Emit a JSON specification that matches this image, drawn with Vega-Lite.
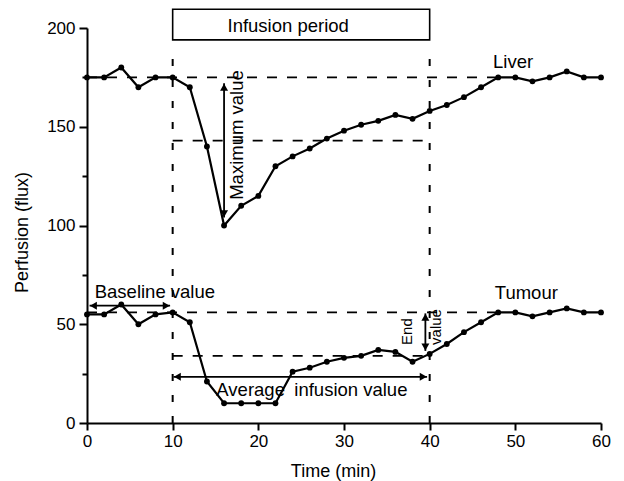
{
  "$schema": "https://vega.github.io/schema/vega-lite/v6.json",
  "width": 514,
  "height": 395,
  "autosize": {"type": "none"},
  "padding": {"left": 87, "top": 28, "right": 23, "bottom": 58},
  "background": "white",
  "config": {
    "view": {"stroke": null},
    "axis": {
      "labelFont": "Liberation Sans",
      "titleFont": "Liberation Sans",
      "labelFontSize": 17,
      "titleFontSize": 18,
      "titleFontWeight": "normal",
      "labelColor": "black",
      "titleColor": "black",
      "domainColor": "black",
      "tickColor": "black",
      "domainWidth": 2,
      "tickWidth": 2,
      "grid": false
    },
    "text": {"font": "Liberation Sans", "color": "black"}
  },
  "datasets": {
    "series": [
      {"organ": "Liver", "x": 0, "y": 175}, {"organ": "Liver", "x": 2, "y": 175}, {"organ": "Liver", "x": 4, "y": 180}, {"organ": "Liver", "x": 6, "y": 170},
      {"organ": "Liver", "x": 8, "y": 175}, {"organ": "Liver", "x": 10, "y": 175}, {"organ": "Liver", "x": 12, "y": 170}, {"organ": "Liver", "x": 14, "y": 140},
      {"organ": "Liver", "x": 16, "y": 100}, {"organ": "Liver", "x": 18, "y": 110}, {"organ": "Liver", "x": 20, "y": 115}, {"organ": "Liver", "x": 22, "y": 130},
      {"organ": "Liver", "x": 24, "y": 135}, {"organ": "Liver", "x": 26, "y": 139}, {"organ": "Liver", "x": 28, "y": 144}, {"organ": "Liver", "x": 30, "y": 148},
      {"organ": "Liver", "x": 32, "y": 151}, {"organ": "Liver", "x": 34, "y": 153}, {"organ": "Liver", "x": 36, "y": 156}, {"organ": "Liver", "x": 38, "y": 154},
      {"organ": "Liver", "x": 40, "y": 158}, {"organ": "Liver", "x": 42, "y": 161}, {"organ": "Liver", "x": 44, "y": 165}, {"organ": "Liver", "x": 46, "y": 170},
      {"organ": "Liver", "x": 48, "y": 175}, {"organ": "Liver", "x": 50, "y": 175}, {"organ": "Liver", "x": 52, "y": 173}, {"organ": "Liver", "x": 54, "y": 175},
      {"organ": "Liver", "x": 56, "y": 178}, {"organ": "Liver", "x": 58, "y": 175}, {"organ": "Liver", "x": 60, "y": 175},
      {"organ": "Tumour", "x": 0, "y": 55}, {"organ": "Tumour", "x": 2, "y": 55}, {"organ": "Tumour", "x": 4, "y": 60}, {"organ": "Tumour", "x": 6, "y": 50},
      {"organ": "Tumour", "x": 8, "y": 55}, {"organ": "Tumour", "x": 10, "y": 56}, {"organ": "Tumour", "x": 12, "y": 51}, {"organ": "Tumour", "x": 14, "y": 21},
      {"organ": "Tumour", "x": 16, "y": 10}, {"organ": "Tumour", "x": 18, "y": 10}, {"organ": "Tumour", "x": 20, "y": 10}, {"organ": "Tumour", "x": 22, "y": 10},
      {"organ": "Tumour", "x": 24, "y": 26}, {"organ": "Tumour", "x": 26, "y": 28}, {"organ": "Tumour", "x": 28, "y": 31}, {"organ": "Tumour", "x": 30, "y": 33},
      {"organ": "Tumour", "x": 32, "y": 34}, {"organ": "Tumour", "x": 34, "y": 37}, {"organ": "Tumour", "x": 36, "y": 36}, {"organ": "Tumour", "x": 38, "y": 31},
      {"organ": "Tumour", "x": 40, "y": 35}, {"organ": "Tumour", "x": 42, "y": 40}, {"organ": "Tumour", "x": 44, "y": 46}, {"organ": "Tumour", "x": 46, "y": 51},
      {"organ": "Tumour", "x": 48, "y": 56}, {"organ": "Tumour", "x": 50, "y": 56}, {"organ": "Tumour", "x": 52, "y": 54}, {"organ": "Tumour", "x": 54, "y": 56},
      {"organ": "Tumour", "x": 56, "y": 58}, {"organ": "Tumour", "x": 58, "y": 56}, {"organ": "Tumour", "x": 60, "y": 56}
    ],
    "box": [{"x": 10, "x2": 40, "y": 194, "y2": 209.5}],
    "vdash": [
      {"x": 10, "x2": 10, "y": 0, "y2": 186},
      {"x": 40, "x2": 40, "y": 0, "y2": 186}
    ],
    "hdash": [
      {"x": 0, "x2": 48, "y": 175, "y2": 175},
      {"x": 10, "x2": 40, "y": 143, "y2": 143},
      {"x": 0, "x2": 48, "y": 56, "y2": 56},
      {"x": 10, "x2": 40, "y": 34, "y2": 34}
    ],
    "arrows": [
      {"x": 16, "x2": 16, "y": 104, "y2": 172},
      {"x": 0.3, "x2": 9.7, "y": 59.4, "y2": 59.4},
      {"x": 10.1, "x2": 39.7, "y": 23.4, "y2": 23.4},
      {"x": 39.5, "x2": 39.5, "y": 36.5, "y2": 55.5}
    ],
    "heads": [
      {"x": 16, "y": 170, "dir": "up"},
      {"x": 16, "y": 106, "dir": "down"},
      {"x": 0.75, "y": 59.4, "dir": "left"},
      {"x": 9.25, "y": 59.4, "dir": "right"},
      {"x": 10.55, "y": 23.4, "dir": "left"},
      {"x": 39.25, "y": 23.4, "dir": "right"},
      {"x": 39.5, "y": 53.5, "dir": "up"},
      {"x": 39.5, "y": 38.5, "dir": "down"}
    ],
    "labels": [
      {"x": 16.4, "y": 200.9, "text": "Infusion period"},
      {"x": 0.9, "y": 66.5, "text": "Baseline value"},
      {"x": 15.1, "y": 16.7, "text": "Average"},
      {"x": 24.2, "y": 16.7, "text": "infusion value"},
      {"x": 47.4, "y": 183, "text": "Liver"},
      {"x": 47.6, "y": 65.7, "text": "Tumour"}
    ],
    "rotbig": [{"x": 17.5, "y": 145.8, "text": "Maximum value"}],
    "rotsmall": [
      {"x": 37.4, "y": 46.3, "text": "End"},
      {"x": 40.7, "y": 48.6, "text": "value"}
    ]
  },
  "encoding": {
    "x": {
      "field": "x", "type": "quantitative",
      "scale": {"domain": [0, 60], "nice": false, "zero": false},
      "axis": {
        "title": "Time (min)",
        "values": [0, 10, 20, 30, 40, 50, 60],
        "tickSize": 7,
        "labelPadding": 3,
        "labelFlush": false,
        "titleX": 246,
        "titleY": 48,
        "titleBaseline": "middle"
      }
    },
    "y": {
      "field": "y", "type": "quantitative",
      "scale": {"domain": [0, 200], "nice": false, "zero": false},
      "axis": {
        "title": "Perfusion (flux)",
        "values": [0, 25, 50, 75, 100, 125, 150, 175, 200],
        "labelExpr": "datum.value % 50 === 0 ? datum.label : ''",
        "tickSize": {"condition": {"test": "datum.value % 50 === 0", "value": 8}, "value": 5},
        "labelPadding": 4,
        "titleX": -65,
        "titleY": 204,
        "titleBaseline": "middle",
        "titleAlign": "center"
      }
    }
  },
  "layer": [
    {
      "data": {"name": "box"},
      "mark": {"type": "rect", "fill": "white", "stroke": "black", "strokeWidth": 1.6},
      "encoding": {"x2": {"field": "x2"}, "y2": {"field": "y2"}}
    },
    {
      "data": {"name": "vdash"},
      "mark": {"type": "rule", "color": "black", "strokeWidth": 2, "strokeDash": [7, 14]},
      "encoding": {"x2": {"field": "x2"}, "y2": {"field": "y2"}}
    },
    {
      "data": {"name": "hdash"},
      "mark": {"type": "rule", "color": "black", "strokeWidth": 1.8, "strokeDash": [10, 10]},
      "encoding": {"x2": {"field": "x2"}, "y2": {"field": "y2"}}
    },
    {
      "data": {"name": "series"},
      "mark": {"type": "line", "color": "black", "strokeWidth": 2.2, "point": {"filled": true, "color": "black", "opacity": 1, "size": 34}},
      "encoding": {"detail": {"field": "organ"}}
    },
    {
      "data": {"name": "arrows"},
      "mark": {"type": "rule", "color": "black", "strokeWidth": 1.8},
      "encoding": {"x2": {"field": "x2"}, "y2": {"field": "y2"}}
    },
    {
      "data": {"name": "heads"},
      "mark": {"type": "point", "filled": true, "color": "black", "opacity": 1, "size": 64},
      "encoding": {
        "shape": {
          "field": "dir", "type": "nominal", "legend": null,
          "scale": {"domain": ["up", "down", "left", "right"], "range": ["triangle-up", "triangle-down", "triangle-left", "triangle-right"]}
        }
      }
    },
    {
      "data": {"name": "labels"},
      "mark": {"type": "text", "fontSize": 18.5, "align": "left", "baseline": "middle", "fill": "black"},
      "encoding": {"text": {"field": "text"}}
    },
    {
      "data": {"name": "rotbig"},
      "mark": {"type": "text", "fontSize": 18.5, "align": "center", "baseline": "middle", "angle": 270, "fill": "black"},
      "encoding": {"text": {"field": "text"}}
    },
    {
      "data": {"name": "rotsmall"},
      "mark": {"type": "text", "fontSize": 15, "align": "center", "baseline": "middle", "angle": 270, "fill": "black"},
      "encoding": {"text": {"field": "text"}}
    }
  ]
}
